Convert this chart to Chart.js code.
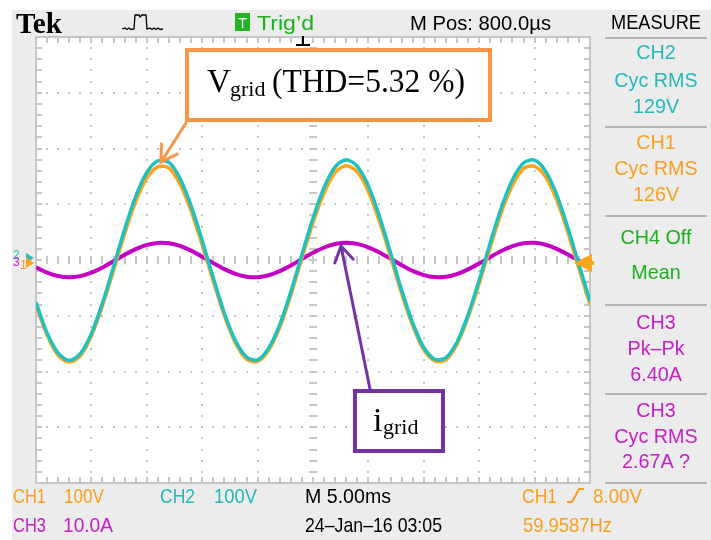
<!DOCTYPE html>
<html>
<head>
<meta charset="utf-8">
<script src="https://cdn.jsdelivr.net/npm/chart.js@4.4.1/dist/chart.umd.min.js"></script>
<style>
  html, body { margin: 0; padding: 0; background: #fff; }
  canvas { display: block; }
</style>
</head>
<body>
<canvas id="scope" width="711" height="540"></canvas>
<script>
// samples, one per ms (5 ms/div, 10 div)
const timeMs = [0, 1, 2, 3, 4, 5, 6, 7, 8, 9, 10, 11, 12, 13, 14, 15, 16, 17, 18, 19, 20,
  21, 22, 23, 24, 25, 26, 27, 28, 29, 30, 31, 32, 33, 34, 35, 36, 37, 38, 39, 40,
  41, 42, 43, 44, 45, 46, 47, 48, 49, 50];
const ch2Volts = [-76, -131, -167, -180, -168, -132, -77, -12, 55, 114, 157, 178, 175, 146, 97, 35, -32,
  -95, -145, -174, -179, -158, -116, -57, 10, 75, 130, 167, 180, 168, 133, 78, 13, -54, -113, -157,
  -178, -175, -147, -98, -36, 31, 94, 144, 174, 179, 159, 117, 58, -8, -74];
const ch1Volts = [-81, -135, -171, -183, -172, -136, -82, -19, 47, 105, 147, 167, 165, 136, 88, 27, -38,
  -100, -149, -178, -182, -162, -121, -63, 3, 67, 120, 157, 169, 158, 123, 69, 6, -60, -118, -161,
  -181, -179, -151, -103, -42, 23, 85, 134, 164, 168, 149, 108, 50, -15, -80];
const ch3Amps = [-1.31, -2.25, -2.88, -3.10, -2.89, -2.27, -1.33, -0.21, 0.94, 1.96, 2.71, 3.07, 3.01,
  2.52, 1.68, 0.60, -0.56, -1.64, -2.49, -3.00, -3.08, -2.73, -2.00, -0.99, 0.17, 1.29, 2.24, 2.87,
  3.10, 2.89, 2.28, 1.35, 0.23, -0.93, -1.95, -2.70, -3.07, -3.01, -2.53, -1.69, -0.62, 0.54, 1.62,
  2.48, 2.99, 3.08, 2.74, 2.01, 1.00, -0.15, -1.27];

const voltsPerDiv = 100;
const ampsPerDiv = 10;
const msPerDiv = 5;
const divsX = 10;
const divsY = 8;

const measureBlocks = [
  ['CH2', 'Cyc RMS', '129V'],
  ['CH1', 'Cyc RMS', '126V'],
  ['CH4 Off', 'Mean'],
  ['CH3', 'Pk\u2013Pk', '6.40A'],
  ['CH3', 'Cyc RMS', '2.67A ?']
];

const CYAN = '#1fc0c0';
const ORANGE = '#ffa41c';
const MAGENTA = '#c400c4';
const CYAN_T = '#22baba';
const ORANGE_T = '#f8a01e';
const MAGENTA_T = '#c41ec4';
const GREEN_T = '#1cb01c';
const GRID = '#c6c6c6';
const SANS = '"Liberation Sans", Arial, sans-serif';
const SERIF = '"Liberation Serif", "Times New Roman", serif';

function toPoints(values, perDiv) {
  return timeMs.map((t, i) => ({ x: t, y: values[i] / perDiv }));
}

function txt(c, str, x, y, o) {
  c.save();
  c.font = (o.weight || '') + ' ' + (o.size || 20) + 'px ' + (o.family || SANS);
  c.fillStyle = o.color || '#000';
  c.textAlign = o.align || 'left';
  c.textBaseline = o.baseline || 'alphabetic';
  const w = c.measureText(str).width;
  const sx = o.w ? o.w / w : (o.sx || 1);
  c.translate(x, y);
  c.scale(sx, 1);
  c.fillText(str, 0, 0);
  c.restore();
}

function arrow(c, x1, y1, x2, y2, color, head) {
  const ang = Math.atan2(y2 - y1, x2 - x1);
  c.save();
  c.strokeStyle = color;
  c.lineWidth = 3;
  c.lineCap = 'round';
  c.beginPath();
  c.moveTo(x1, y1);
  c.lineTo(x2, y2);
  c.moveTo(x2 - head * Math.cos(ang - 0.55), y2 - head * Math.sin(ang - 0.55));
  c.lineTo(x2, y2);
  c.lineTo(x2 - head * Math.cos(ang + 0.55), y2 - head * Math.sin(ang + 0.55));
  c.stroke();
  c.restore();
}

const scopeScreen = {
  id: 'scopeScreen',
  beforeDraw(chart) {
    const c = chart.ctx, a = chart.chartArea;
    c.save();
    c.fillStyle = '#fff';
    c.fillRect(0, 0, chart.width, chart.height);
    c.fillStyle = '#ececec';
    c.fillRect(12, 10, chart.width - 12, chart.height - 10);
    c.fillStyle = '#fff';
    c.fillRect(a.left, a.top, a.right - a.left, a.bottom - a.top);
    c.restore();
  },
  beforeDatasetsDraw(chart) {
    const c = chart.ctx, xs = chart.scales.x, ys = chart.scales.y, a = chart.chartArea;
    const px = k => Math.round(xs.getPixelForValue(k * msPerDiv / 5));
    const py = k => Math.round(ys.getPixelForValue(-divsY / 2 + k / 5));
    c.save();
    c.fillStyle = GRID;
    // dotted division lines
    for (let i = 1; i < divsX; i++) {
      if (i === divsX / 2) continue;
      for (let k = 1; k < divsY * 5; k++) c.fillRect(px(i * 5) - 1, py(k) - 1, 2, 2);
    }
    for (let j = 1; j < divsY; j++) {
      if (j === divsY / 2) continue;
      for (let k = 1; k < divsX * 5; k++) c.fillRect(px(k) - 1, py(j * 5) - 1, 2, 2);
    }
    // centre cross ticks
    const cx = px(divsX * 5 / 2), cy = py(divsY * 5 / 2);
    for (let k = 1; k < divsX * 5; k++) c.fillRect(px(k) - 1, cy - 4, 2, 8);
    for (let k = 1; k < divsY * 5; k++) c.fillRect(cx - 4, py(k) - 1, 8, 2);
    // border with edge ticks
    for (let k = 1; k < divsX * 5; k++) {
      c.fillRect(px(k) - 1, a.top, 2, 6);
      c.fillRect(px(k) - 1, a.bottom - 6, 2, 6);
    }
    for (let k = 1; k < divsY * 5; k++) {
      c.fillRect(a.left, py(k) - 1, 6, 2);
      c.fillRect(a.right - 6, py(k) - 1, 6, 2);
    }
    c.strokeStyle = GRID;
    c.lineWidth = 2;
    c.strokeRect(a.left, a.top, a.right - a.left, a.bottom - a.top);
    c.restore();
  },
  afterDatasetsDraw(chart) {
    const c = chart.ctx, a = chart.chartArea, ys = chart.scales.y;
    const zero = ys.getPixelForValue(0);

    // ---- header
    txt(c, 'Tek', 16, 33, { family: SERIF, weight: 'bold', size: 30, w: 46 });
    c.save();
    c.strokeStyle = '#000';
    c.lineWidth = 1.3;
    c.beginPath();
    c.moveTo(122, 29); c.lineTo(125, 28); c.lineTo(127, 29.5); c.lineTo(129, 28); c.lineTo(131, 29.5);
    c.lineTo(134, 29); c.lineTo(135, 15); c.lineTo(139, 15); c.lineTo(140, 17); c.lineTo(142, 15);
    c.lineTo(146, 15); c.lineTo(147, 29); c.lineTo(150, 28); c.lineTo(152, 29.5); c.lineTo(154, 28);
    c.lineTo(156, 29.5); c.lineTo(158, 28); c.lineTo(160, 29.5); c.lineTo(163, 29);
    c.stroke();
    c.restore();
    c.fillStyle = '#22b422';
    c.fillRect(235, 13, 15, 18);
    txt(c, 'T', 242.5, 28, { color: '#fff', size: 14, align: 'center' });
    txt(c, 'Trig\u2019d', 257, 30, { color: GREEN_T, size: 21, w: 57 });
    txt(c, 'M Pos: 800.0\u00b5s', 410, 30, { size: 21, w: 141 });
    txt(c, 'MEASURE', 611, 29, { size: 21, w: 90 });

    // ---- measure panel
    c.fillStyle = '#b4b4b4';
    [38, 127, 216, 305, 394, 483].forEach(y => c.fillRect(605, y - 1, 102, 2));
    const blockColors = [CYAN_T, ORANGE_T, GREEN_T, MAGENTA_T, MAGENTA_T];
    const lineY = [[53, 81, 107], [143, 169, 195], [238, 273], [323, 349, 375], [411, 437, 462]];
    measureBlocks.forEach((lines, b) => {
      lines.forEach((s, l) => txt(c, s, 656, lineY[b][l], { color: blockColors[b], align: 'center', baseline: 'middle', size: 21, sx: 0.94 }));
    });

    // ---- footer
    txt(c, 'CH1', 13, 503, { color: ORANGE_T, size: 21, w: 33 });
    txt(c, '100V', 64, 503, { color: ORANGE_T, size: 21, w: 40 });
    txt(c, 'CH2', 160, 503, { color: CYAN_T, size: 21, w: 35 });
    txt(c, '100V', 214, 503, { color: CYAN_T, size: 21, w: 43 });
    txt(c, 'M 5.00ms', 305, 503, { size: 21, w: 86 });
    txt(c, 'CH1', 522, 503, { color: ORANGE_T, size: 21, w: 35 });
    c.save();
    c.strokeStyle = ORANGE_T;
    c.lineWidth = 2;
    c.beginPath();
    c.moveTo(567, 502); c.lineTo(572, 502); c.lineTo(579, 489); c.lineTo(584, 489);
    c.stroke();
    c.restore();
    txt(c, '8.00V', 593, 503, { color: ORANGE_T, size: 21, w: 49 });
    txt(c, 'CH3', 13, 532, { color: MAGENTA_T, size: 21, w: 33 });
    txt(c, '10.0A', 63, 532, { color: MAGENTA_T, size: 21, w: 50 });
    txt(c, '24\u2013Jan\u201316 03:05', 305, 532, { size: 21, w: 137 });
    txt(c, '59.9587Hz', 523, 532, { color: ORANGE_T, size: 21, w: 89 });

    // ---- channel ground markers and trigger markers
    txt(c, '2', 13, zero - 1, { color: CYAN_T, size: 12 });
    txt(c, '3', 13, zero + 6, { color: MAGENTA_T, size: 12 });
    txt(c, '1', 20, zero + 9, { color: ORANGE_T, size: 12 });
    c.fillStyle = CYAN;
    c.beginPath(); c.moveTo(26, zero - 7); c.lineTo(34, zero - 2); c.lineTo(26, zero + 3); c.fill();
    c.fillStyle = ORANGE;
    c.beginPath(); c.moveTo(26, zero - 3); c.lineTo(34, zero + 3); c.lineTo(26, zero + 8); c.fill();
    c.beginPath(); c.moveTo(574, zero + 3); c.lineTo(592, zero - 6); c.lineTo(592, zero + 12); c.fill();
    c.fillRect(584, zero + 1, 10, 4);
    c.fillStyle = '#000';
    c.fillRect(302, a.top - 1, 2, 9);
    c.fillRect(296, a.top + 7, 14, 2);

    // ---- annotation: V_grid
    c.save();
    c.fillStyle = '#fff';
    c.fillRect(187, 50, 303, 70);
    c.strokeStyle = '#f79646';
    c.lineWidth = 4;
    c.strokeRect(187, 50, 303, 70);
    c.restore();
    txt(c, 'V', 207, 92, { family: SERIF, size: 33 });
    txt(c, 'grid', 230, 96, { family: SERIF, size: 22 });
    txt(c, '(THD=5.32 %)', 272, 92, { family: SERIF, size: 33, w: 193 });
    arrow(c, 186, 123, 161, 162, '#f79646', 18);

    // ---- annotation: i_grid
    c.save();
    c.fillStyle = '#fff';
    c.fillRect(355, 391, 88, 60);
    c.strokeStyle = '#7432a4';
    c.lineWidth = 4;
    c.strokeRect(355, 391, 88, 60);
    c.restore();
    txt(c, 'i', 373, 431, { family: SERIF, size: 34 });
    txt(c, 'grid', 383, 434, { family: SERIF, size: 22 });
    arrow(c, 370, 389, 341, 246, '#7432a4', 18);
  }
};

new Chart(document.getElementById('scope').getContext('2d'), {
  type: 'line',
  data: {
    datasets: [
      { label: 'CH2', data: toPoints(ch2Volts, voltsPerDiv), borderColor: CYAN },
      { label: 'CH1', data: toPoints(ch1Volts, voltsPerDiv), borderColor: ORANGE },
      { label: 'CH3', data: toPoints(ch3Amps, ampsPerDiv), borderColor: MAGENTA, borderWidth: 4 }
    ]
  },
  options: {
    responsive: false,
    animation: false,
    devicePixelRatio: 1,
    events: [],
    layout: { padding: { left: 36, top: 37, right: 121, bottom: 57 } },
    elements: {
      point: { radius: 0 },
      line: { borderWidth: 3.5, tension: 0.3 }
    },
    scales: {
      x: { type: 'linear', min: 0, max: divsX * msPerDiv, display: false },
      y: { type: 'linear', min: -divsY / 2, max: divsY / 2, display: false }
    },
    plugins: { legend: { display: false }, tooltip: { enabled: false } }
  },
  plugins: [scopeScreen]
});
</script>
</body>
</html>
